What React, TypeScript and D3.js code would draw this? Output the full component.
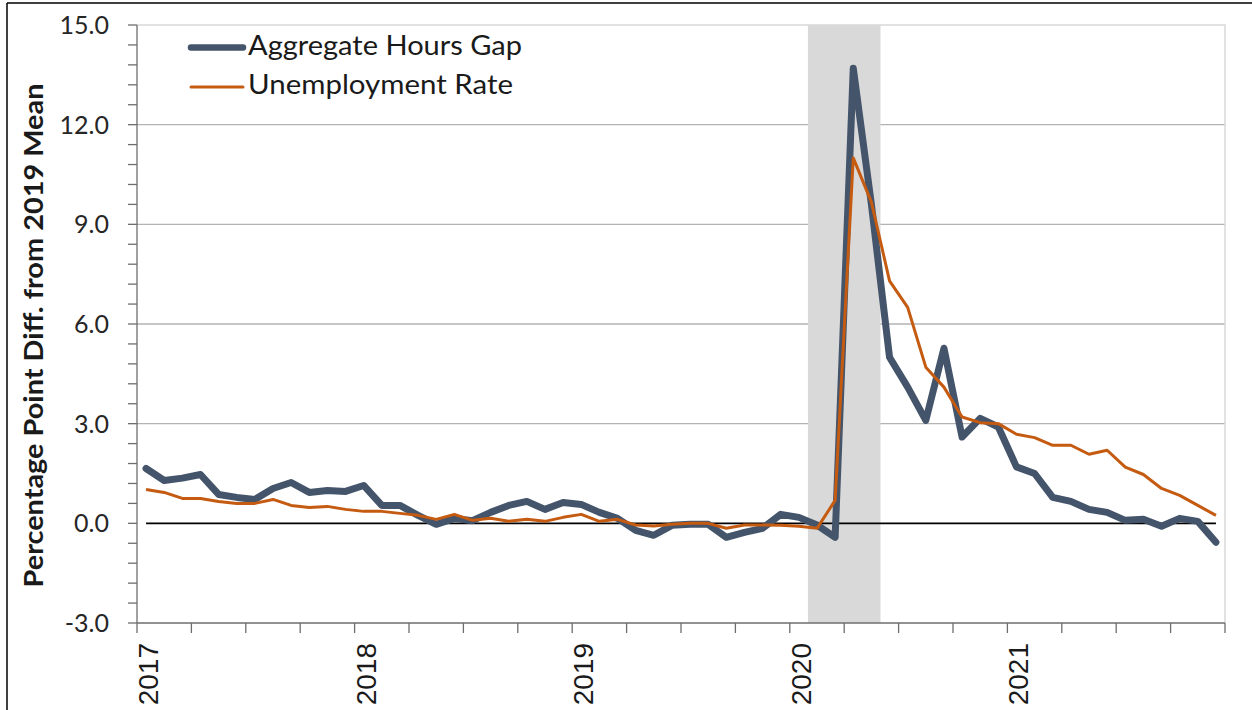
import React, { useEffect, useRef } from "react";
import * as d3 from "d3";

// monthly observations, Jan 2017 - Dec 2021
const years = ["2017", "2018", "2019", "2020", "2021"];
const months = d3.range(60).map((i) => years[Math.floor(i / 12)] + "-" + ((i % 12) + 1));

const hoursGap = [
  1.65, 1.29, 1.36, 1.47, 0.87, 0.78, 0.72, 1.05, 1.23, 0.93, 0.99, 0.96,
  1.14, 0.54, 0.54, 0.24, -0.03, 0.15, 0.08, 0.33, 0.54, 0.66, 0.42, 0.63,
  0.57, 0.33, 0.15, -0.21, -0.36, -0.06, -0.03, -0.03, -0.42, -0.27, -0.15, 0.27,
  0.18, -0.05, -0.42, 13.7, 9.6, 5.0, 4.1, 3.1, 5.27, 2.6, 3.16, 2.9,
  1.7, 1.5, 0.78, 0.66, 0.42, 0.33, 0.09, 0.12, -0.09, 0.15, 0.06, -0.57,
];

const unempRate = [
  1.02, 0.93, 0.75, 0.75, 0.66, 0.6, 0.6, 0.72, 0.54, 0.48, 0.51, 0.42,
  0.36, 0.36, 0.3, 0.24, 0.12, 0.27, 0.09, 0.15, 0.06, 0.12, 0.06, 0.18,
  0.27, 0.06, 0.12, -0.05, -0.08, -0.03, 0.0, 0.0, -0.15, -0.05, -0.05, -0.06,
  -0.09, -0.15, 0.69, 11.0, 9.67, 7.3, 6.5, 4.7, 4.1, 3.2, 3.03, 3.0,
  2.68, 2.58, 2.35, 2.35, 2.08, 2.2, 1.69, 1.47, 1.05, 0.84, 0.54, 0.24,
];

const yTicks = [-3, 0, 3, 6, 9, 12, 15];
const yTickLabels = ["-3.0", "0.0", "3.0", "6.0", "9.0", "12.0", "15.0"];
const recession = ["2020-2", "2020-5"]; // shaded months, first and last

export default function App() {
  const ref = useRef<SVGSVGElement>(null);

  useEffect(() => {
    const svg = d3.select(ref.current);
    svg.selectAll("*").remove();

    const left = 137, right = 1225, top = 25, bottom = 623;
    const x = d3.scaleBand<string>().domain(months).range([left, right]);
    const y = d3.scaleLinear().domain([-3, 15]).range([bottom, top]);
    const cx = (i: number) => x(months[i])! + x.bandwidth() / 2;

    // outer frame (top and left only)
    svg.append("line").attr("x1", 7).attr("x2", 1252).attr("y1", 3).attr("y2", 3)
      .attr("stroke", "#000").attr("stroke-width", 1.5);
    svg.append("line").attr("x1", 7).attr("x2", 7).attr("y1", 3).attr("y2", 710)
      .attr("stroke", "#000").attr("stroke-width", 1.5);

    // gridlines
    svg.append("g").selectAll("line").data(yTicks.filter((t) => t > 0 && t < 15)).enter()
      .append("line")
      .attr("x1", left).attr("x2", right)
      .attr("y1", (d) => y(d)).attr("y2", (d) => y(d))
      .attr("stroke", "#b3b3b3").attr("stroke-width", 1.3);
    // plot border
    svg.append("path")
      .attr("d", `M${left},${y(15)}H${right}V${bottom}`)
      .attr("fill", "none").attr("stroke", "#d9d9d9").attr("stroke-width", 1.5);

    // recession shading
    const x0 = x(recession[0])!;
    const x1 = x(recession[1])! + x.bandwidth();
    svg.append("rect").attr("x", x0).attr("y", top).attr("width", x1 - x0)
      .attr("height", bottom - top).attr("fill", "#d9d9d9");

    // zero line
    svg.append("line").attr("x1", cx(0)).attr("x2", cx(59))
      .attr("y1", y(0)).attr("y2", y(0)).attr("stroke", "#000").attr("stroke-width", 1.8);

    // y axis
    const axisColor = "#6e6e6e";
    svg.append("line").attr("x1", left).attr("x2", left).attr("y1", top).attr("y2", bottom)
      .attr("stroke", axisColor).attr("stroke-width", 1.3);
    const minor = d3.range(-3, 15.001, 0.6);
    svg.append("g").selectAll("line").data(minor).enter().append("line")
      .attr("x1", left - 9).attr("x2", left)
      .attr("y1", (d) => y(d)).attr("y2", (d) => y(d))
      .attr("stroke", axisColor).attr("stroke-width", 1.3);
    svg.append("g").selectAll("text").data(yTicks).enter().append("text")
      .attr("x", 109).attr("y", (d) => y(d) + 9)
      .attr("text-anchor", "end")
      .attr("font-family", "Lato, 'Open Sans', sans-serif")
      .attr("font-size", 25).attr("fill", "#262626")
      .text((d, i) => yTickLabels[i]);
    svg.append("text")
      .attr("transform", `translate(43,${(83 + 588) / 2}) rotate(-90)`)
      .attr("text-anchor", "middle")
      .attr("font-family", "Lato, 'Open Sans', sans-serif")
      .attr("font-weight", "bold").attr("font-size", 27).attr("fill", "#1a1a1a")
      .attr("textLength", 504).attr("lengthAdjust", "spacingAndGlyphs")
      .text("Percentage Point Diff. from 2019 Mean");

    // x axis
    svg.append("line").attr("x1", left).attr("x2", right).attr("y1", bottom).attr("y2", bottom)
      .attr("stroke", axisColor).attr("stroke-width", 1.3);
    const qTicks = d3.range(0, 61, 3);
    svg.append("g").selectAll("line").data(qTicks).enter().append("line")
      .attr("x1", (d) => left + d * x.bandwidth()).attr("x2", (d) => left + d * x.bandwidth())
      .attr("y1", bottom).attr("y2", bottom + 10)
      .attr("stroke", axisColor).attr("stroke-width", 1.3);
    svg.append("g").selectAll("text").data(years).enter().append("text")
      .attr("transform", (d) => `translate(${x(d + "-1")! + 21},643) rotate(-90)`)
      .attr("text-anchor", "end")
      .attr("font-family", "'Liberation Sans', Arial, sans-serif")
      .attr("font-size", 28).attr("fill", "#1a1a1a")
      .text((d) => d);

    // series: hours gap underneath, unemployment on top
    const line = d3.line<number>().x((_, i) => cx(i)).y((d) => y(d));
    svg.append("path").datum(hoursGap).attr("d", line)
      .attr("fill", "none").attr("stroke", "#44546a").attr("stroke-width", 7)
      .attr("stroke-linejoin", "round").attr("stroke-linecap", "round");
    svg.append("path").datum(unempRate).attr("d", line)
      .attr("fill", "none").attr("stroke", "#c55a11").attr("stroke-width", 3)
      .attr("stroke-linejoin", "round");

    // legend
    const legend = [
      { name: "Aggregate Hours Gap", color: "#44546a", w: 6.5, len: 274 },
      { name: "Unemployment Rate", color: "#c55a11", w: 3, len: 265 },
    ];
    const lg = svg.append("g");
    legend.forEach((d, i) => {
      const ly = 47.5 + i * 39.5;
      lg.append("line").attr("x1", 191).attr("x2", 243).attr("y1", ly).attr("y2", ly)
        .attr("stroke", d.color).attr("stroke-width", d.w).attr("stroke-linecap", "round");
      lg.append("text").attr("x", 248).attr("y", ly + 7)
        .attr("font-family", "Lato, 'Open Sans', sans-serif")
        .attr("font-size", 26).attr("fill", "#1a1a1a")
        .attr("textLength", d.len).attr("lengthAdjust", "spacingAndGlyphs")
        .text(d.name);
    });
  }, []);

  return (
    <svg
      ref={ref}
      width={1252}
      height={710}
      style={{ position: "absolute", left: 0, top: 0, background: "#fff" }}
    />
  );
}
